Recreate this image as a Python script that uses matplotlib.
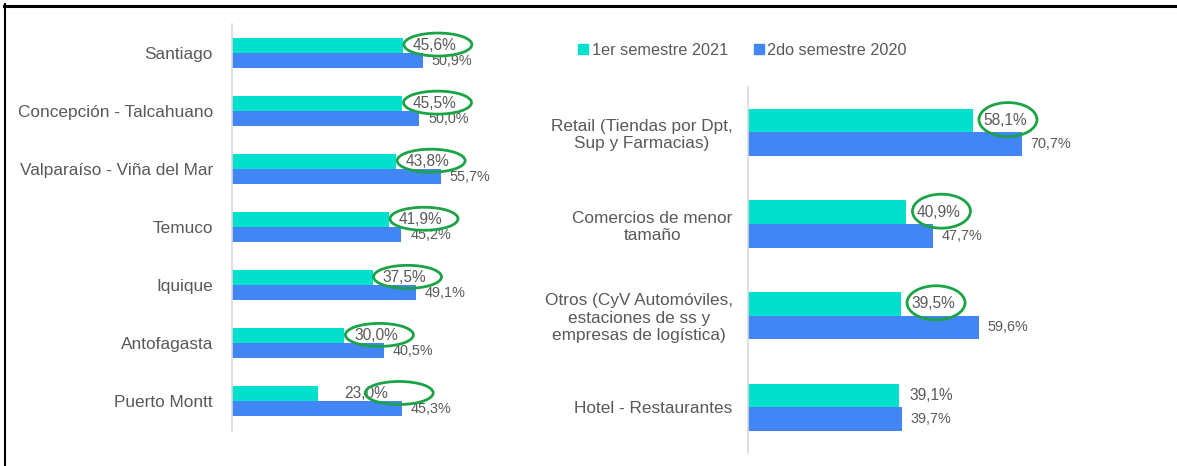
import matplotlib.pyplot as plt
from matplotlib.lines import Line2D
from matplotlib.patches import Ellipse

plt.rcParams['font.family'] = ['Liberation Sans', 'DejaVu Sans']

# data
ciudades = ["Santiago", "Concepción - Talcahuano", "Valparaíso - Viña del Mar",
            "Temuco", "Iquique", "Antofagasta", "Puerto Montt"]
ciudad_2021 = [45.6, 45.5, 43.8, 41.9, 37.5, 30.0, 23.0]
ciudad_2020 = [50.9, 50.0, 55.7, 45.2, 49.1, 40.5, 45.3]

rubros = ["Retail (Tiendas por Dpt,\nSup y Farmacias)",
          "Comercios de menor\ntamaño",
          "Otros (CyV Automóviles,\nestaciones de ss y\nempresas de logística)",
          "Hotel - Restaurantes"]
rubro_2021 = [58.1, 40.9, 39.5, 39.1]
rubro_2020 = [70.7, 47.7, 59.6, 39.7]
rubro_marcado = [True, True, True, False]

serie_2021 = "1er semestre 2021"
serie_2020 = "2do semestre 2020"

CYAN = '#00E0CD'
BLUE = '#4285F4'
GRAY = '#595959'
RING = '#1BA446'

W, H = 1177, 466
fig = plt.figure(figsize=(W / 100, H / 100), dpi=100)


def fmt(v):
    return f"{v:.1f}%".replace('.', ',')


def draw_panel(ax, cats, v21, v20, marked, ring_w, ring_h, pad, text_nudge, ring_nudge):
    y = list(range(len(cats)))
    bh = 0.258
    ax.barh([i - bh / 2 for i in y], v21, height=bh, color=CYAN)
    ax.barh([i + bh / 2 for i in y], v20, height=bh, color=BLUE)
    ax.set_ylim(len(cats) - 0.5, -0.5)
    ax.set_yticks(y)
    ax.set_yticklabels(cats, fontsize=12.4, color=GRAY)
    for t in ax.get_yticklabels():
        t.set_multialignment('center')
    ax.tick_params(axis='y', length=0, pad=pad)
    ax.set_xticks([])
    for s in ['top', 'right', 'bottom']:
        ax.spines[s].set_visible(False)
    ax.spines['left'].set_color('#D9D9D9')
    ax.spines['left'].set_linewidth(1.2)

    p0 = ax.transData.transform((0, 0))
    p1 = ax.transData.transform((1, 1))
    sx = p1[0] - p0[0]
    sy = abs(p1[1] - p0[1])

    for i, (c, a, b, m) in enumerate(zip(cats, v21, v20, marked)):
        dx = text_nudge.get(c, 0)
        ax.annotate(fmt(a), (a, i - bh / 2), xytext=(10 + dx, 0),
                    textcoords='offset pixels', va='center', ha='left',
                    fontsize=11.2, color=GRAY)
        ax.annotate(fmt(b), (b, i + bh / 2), xytext=(9, 0),
                    textcoords='offset pixels', va='center', ha='left',
                    fontsize=10.4, color=GRAY)
        if m:
            cx = a + (35 + ring_nudge.get(c, 0)) / sx
            cy = i - bh / 2 - 1 / sy
            ax.add_patch(Ellipse((cx, cy), ring_w / sx, ring_h / sy, fill=False,
                                 edgecolor=RING, lw=2, clip_on=False, zorder=5))


# left panel
axl = fig.add_axes([232 / W, 1 - 430.5 / H, 300 / W, 406.5 / H])
axl.set_xlim(0, 300 / 3.747)
draw_panel(axl, ciudades, ciudad_2021, ciudad_2020, [True] * len(ciudades),
           68, 23, 13.7, {"Puerto Montt": 16}, {"Puerto Montt": 46})

# right panel
axr = fig.add_axes([748.3 / W, 1 - 453 / H, 320 / W, 366.4 / H])
axr.set_xlim(0, 320 / 3.867)
draw_panel(axr, rubros, rubro_2021, rubro_2020, rubro_marcado,
           58, 34, 11.2, {}, {})

handles = [Line2D([], [], marker='s', ls='none', color=CYAN, markersize=6.5),
           Line2D([], [], marker='s', ls='none', color=BLUE, markersize=6.5)]
fig.legend(handles, [serie_2021, serie_2020], loc='center left',
           bbox_to_anchor=(579 / W, 1 - 50.5 / H), ncol=2, frameon=False,
           handlelength=0.55, handletextpad=0.25, columnspacing=1.6,
           borderpad=0, borderaxespad=0, labelcolor=GRAY,
           prop={'size': 11.7})

# frame lines
fig.add_artist(Line2D([4 / W, 1], [1 - 5.5 / H, 1 - 5.5 / H], color='black', lw=2.2))
fig.add_artist(Line2D([5 / W, 5 / W], [0, 1 - 4 / H], color='black', lw=1.5))

fig.savefig('out.png', dpi=100)
